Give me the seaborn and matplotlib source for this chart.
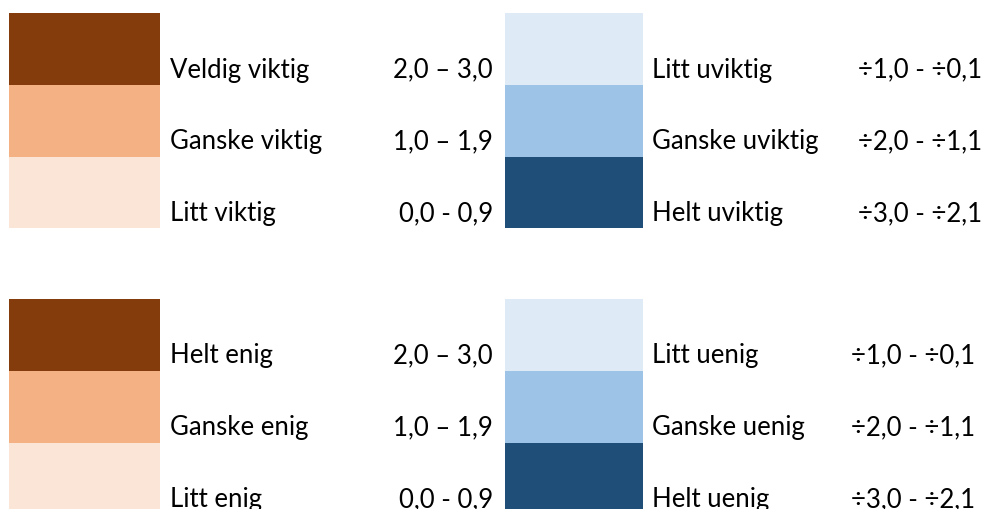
import matplotlib.pyplot as plt
import seaborn as sns
import pandas as pd

# legend content
pos_viktig = ["Veldig viktig", "Ganske viktig", "Litt viktig"]
neg_viktig = ["Litt uviktig", "Ganske uviktig", "Helt uviktig"]
pos_enig = ["Helt enig", "Ganske enig", "Litt enig"]
neg_enig = ["Litt uenig", "Ganske uenig", "Helt uenig"]
pos_ranges = ["2,0 \u2013 3,0", "1,0 \u2013 1,9", "0,0 - 0,9"]
neg_ranges = ["\u00f71,0 - \u00f70,1", "\u00f72,0 - \u00f71,1", "\u00f73,0 - \u00f72,1"]
orange = ["#843C0C", "#F4B183", "#FBE5D6"]
blue = ["#DEEBF7", "#9DC3E6", "#1F4E79"]

sns.set_style("white")
plt.rcParams["font.family"] = ["Lato", "DejaVu Sans"]

fig = plt.figure(figsize=(9.84, 5.09), dpi=100)
ax = fig.add_axes([0, 0, 1, 1])
ax.set_xlim(0, 984)
ax.set_ylim(509, 0)
ax.axis("off")

# (swatch left, swatch width, label x, range x, group top, labels, ranges, colours)
groups = [
    (9, 151, 170, 493, 13, pos_viktig, pos_ranges, orange),
    (505, 138, 652, 982, 13, neg_viktig, neg_ranges, blue),
    (9, 151, 170, 493, 299, pos_enig, pos_ranges, orange),
    (505, 138, 652, 975, 299, neg_enig, neg_ranges, blue),
]
row_h = 71.8
for left, width, lx, rx, top, labels, ranges, cols in groups:
    df = pd.DataFrame({"label": labels, "y": [top + row_h * (i + 0.5) for i in range(3)]})
    ax.barh(df["y"], width, left=left, height=row_h, color=cols, linewidth=0)
    for i, row in df.iterrows():
        base = top + row_h * i + 64.5
        ax.text(lx, base, row["label"], fontsize=18.5, va="baseline", ha="left", color="black")
        ax.text(rx, base, ranges[i], fontsize=18.5, va="baseline", ha="right", color="black")

fig.savefig("out.png", dpi=100)
